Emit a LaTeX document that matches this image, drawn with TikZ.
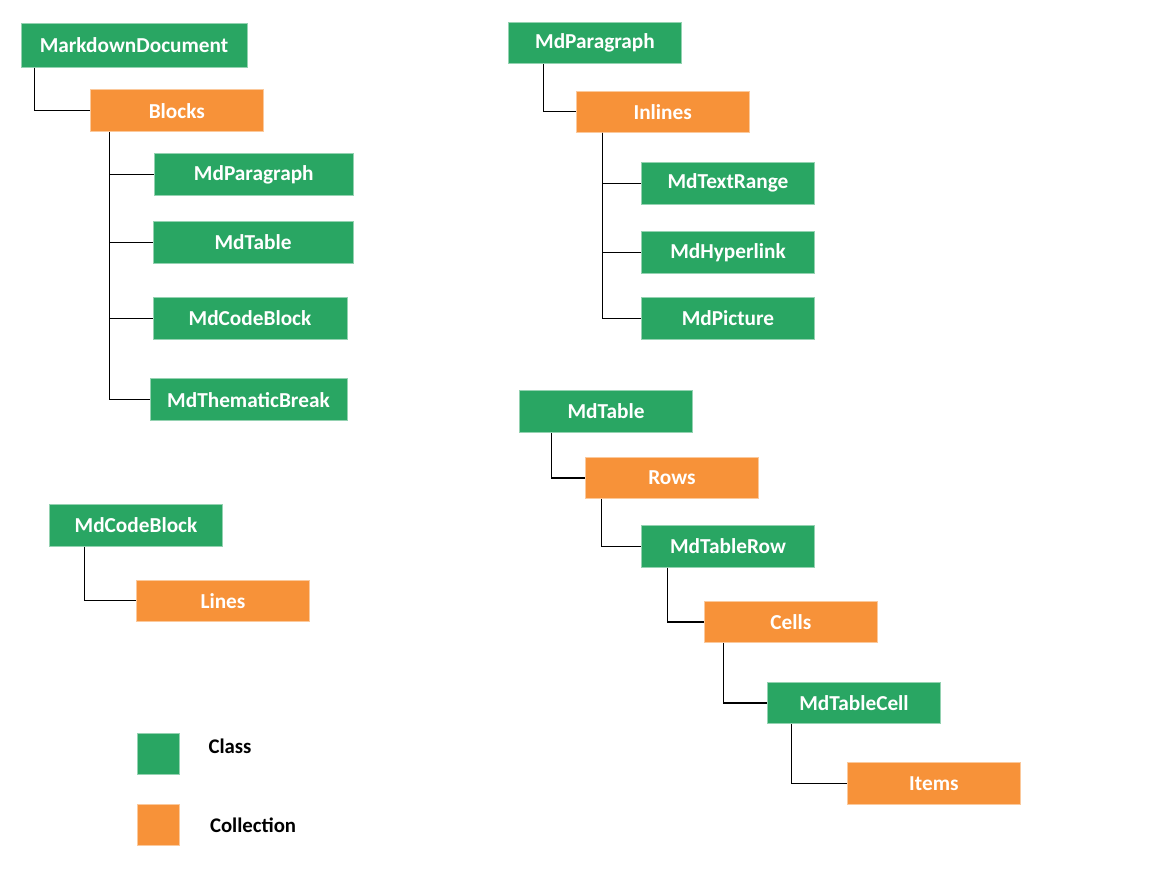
\documentclass[tikz,border=0pt]{standalone}
\usepackage{fontspec}
\setmainfont{Carlito}
\usepackage{tikz}
\usetikzlibrary{positioning}
\definecolor{clsgreen}{RGB}{41,166,99}
\definecolor{colorange}{RGB}{247,146,57}

\begin{document}
\begin{tikzpicture}[x=1pt,y=-1pt,
      cls/.style={rectangle,draw=clsgreen!50!white,line width=0.8pt,fill=clsgreen,text=white,
        font=\fontsize{21.3}{25}\selectfont\bfseries,minimum width=173pt,minimum height=42pt,inner sep=0pt},
      coll/.style={cls,draw=colorange!50!white,fill=colorange},
      link/.style={line width=1.1pt,black},
      lab/.style={font=\fontsize{20.8}{25}\selectfont\bfseries,anchor=west}]
    \useasboundingbox (0,0) rectangle (1156,873);
    % document -> blocks
    \node[cls,minimum width=226pt,minimum height=44pt] (doc) at (134,45.3) {MarkdownDocument};
    \node[coll] (blocks) at (176.8,110.8) {Blocks};
    \draw[link] ([xshift=14pt]doc.south west) |- (blocks.west);
    \foreach \n/\t/\x/\y/\w in {bpara/MdParagraph/253.8/174.8/199, btable/MdTable/253/242.3/200,
        bcode/MdCodeBlock/250/318.3/194, bbreak/MdThematicBreak/248.5/399.7/197} {
      \node[cls,minimum width=\w pt] (\n) at (\x,\y) {\t};
      \draw[link] ([xshift=20pt]blocks.south west) |- (\n.west);
    }
    % paragraph -> inlines
    \node[cls,minimum height=41pt] (para) at (595,43) {MdParagraph};
    \node[coll,minimum height=41pt] (inlines) at (662.7,111.8) {Inlines};
    \draw[link] ([xshift=35pt]para.south west) |- (inlines.west);
    \foreach \n/\t/\y in {textrange/MdTextRange/183.3, hyperlink/MdHyperlink/252.8, picture/MdPicture/318.3} {
      \node[cls] (\n) at (728,\y) {\t};
      \draw[link] ([xshift=26.7pt]inlines.south west) |- (\n.west);
    }
    % code block -> lines
    \node[cls] (codeblock) at (136,525.2) {MdCodeBlock};
    \node[coll,minimum height=41pt] (lines) at (223,600.7) {Lines};
    \draw[link] ([xshift=35.4pt]codeblock.south west) |- (lines.west);
    % table -> rows -> cells -> items
    \node[cls] (table) at (606,411.5) {MdTable};
    \node[coll,minimum height=41pt] (rows) at (671.9,478) {Rows};
    \node[cls] (tablerow) at (728,546.5) {MdTableRow};
    \node[coll,minimum height=41pt] (cells) at (790.8,622) {Cells};
    \node[cls,minimum height=41pt] (tablecell) at (854,703) {MdTableCell};
    \node[coll] (items) at (933.9,783.5) {Items};
    \draw[link] ([xshift=32.7pt]table.south west) |- (rows.west);
    \draw[link] ([xshift=16.9pt]rows.south west) |- (tablerow.west);
    \draw[link] ([xshift=26.2pt]tablerow.south west) |- (cells.west);
    \draw[link] ([xshift=19.3pt]cells.south west) |- (tablecell.west);
    \draw[link] ([xshift=24.1pt]tablecell.south west) |- (items.west);
    % legend
    \node[cls,minimum width=42pt,minimum height=41pt] (keycls) at (158.3,753.8) {};
    \node[coll,minimum width=42pt,minimum height=41pt] (keycoll) at (158.3,825.2) {};
    \node[lab] (txtcls) at (205,746.7) {Class};
    \node[lab] (txtcoll) at (206.5,825.7) {Collection};
\end{tikzpicture}
\end{document}
